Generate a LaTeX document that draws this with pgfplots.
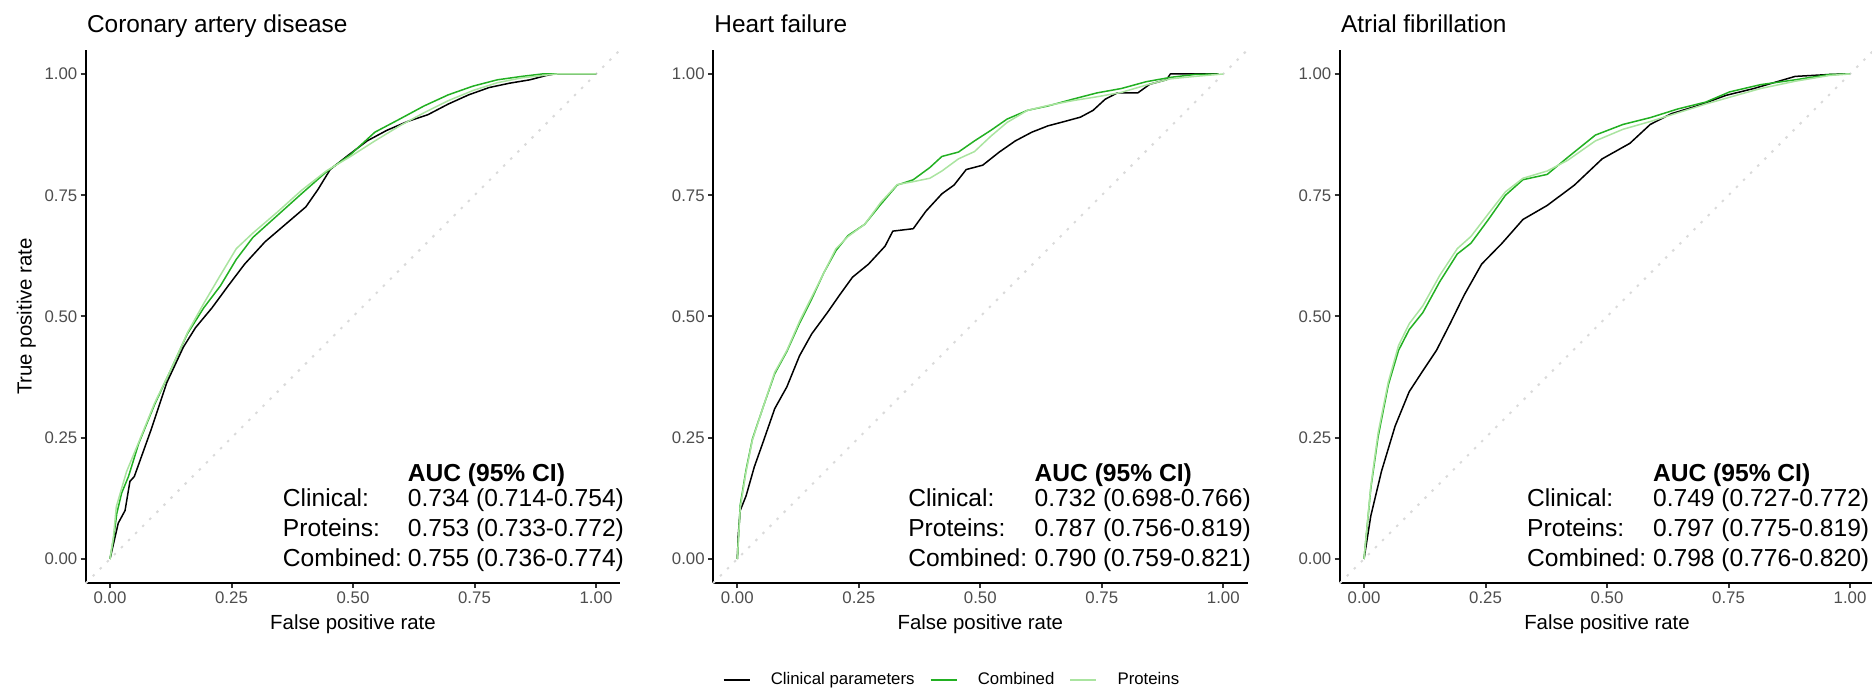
\documentclass[border=0pt]{standalone}
\usepackage{fontspec}
\setmainfont{Liberation Sans}
\usepackage{pgfplots}
\pgfplotsset{compat=1.18}

\definecolor{comb}{RGB}{34,176,34}
\definecolor{prot}{RGB}{170,228,160}
\definecolor{ticktext}{RGB}{77,77,77}
\definecolor{tickcol}{RGB}{51,51,51}
\definecolor{diag}{RGB}{218,218,218}

\newcommand{\aucfont}{\fontsize{12.3}{14}\selectfont}

% AUC block: #1 label x, #2 value x, #3 clinical, #4 proteins, #5 combined
\newcommand{\aucblock}[5]{%
  \node[anchor=base west, inner sep=0pt, font=\aucfont\bfseries] at (axis cs:#2,0.160) {AUC (95\% CI)};
  \node[anchor=base west, inner sep=0pt, font=\aucfont] at (axis cs:#1,0.1087) {Clinical:};
  \node[anchor=base west, inner sep=0pt, font=\aucfont] at (axis cs:#1,0.0464) {Proteins:};
  \node[anchor=base west, inner sep=0pt, font=\aucfont] at (axis cs:#1,-0.015) {Combined:};
  \node[anchor=base west, inner sep=0pt, font=\aucfont] at (axis cs:#2,0.1087) {#3};
  \node[anchor=base west, inner sep=0pt, font=\aucfont] at (axis cs:#2,0.0464) {#4};
  \node[anchor=base west, inner sep=0pt, font=\aucfont] at (axis cs:#2,-0.015) {#5};
}

\pgfplotsset{
  rocpanel/.style={
    scale only axis,
    width=267.3pt, height=266.75pt,
    anchor=south west,
    xmin=-0.05, xmax=1.05, ymin=-0.05, ymax=1.05,
    axis lines*=left,
    axis line style={black, line width=1pt, -},
    xtick={0,0.25,0.5,0.75,1},
    ytick={0,0.25,0.5,0.75,1},
    xticklabels={0.00,0.25,0.50,0.75,1.00},
    yticklabels={0.00,0.25,0.50,0.75,1.00},
    tick align=outside,
    major tick length=2.5pt,
    tick style={tickcol, line width=1pt},
    ticklabel style={font=\fontsize{8.4}{10}\selectfont, text=ticktext, inner sep=1.5pt},
    xlabel={False positive rate},
    xlabel style={font=\fontsize{10.2}{12}\selectfont, at={(axis description cs:0.5,-0.077)}, anchor=center},
    title style={font=\fontsize{12.2}{14}\selectfont, at={(axis description cs:0,1)}, anchor=base west, yshift=2.5pt, xshift=0.5pt, inner sep=0pt},
    clip=false,
    every axis plot/.append style={line width=0.75pt, line join=round, mark=none},
  },
  diagline/.style={diag, line width=1pt, dash pattern=on 1.2pt off 3.8pt, forget plot},
}

\begin{document}
\begin{tikzpicture}
\useasboundingbox (0,0) rectangle (936pt,344pt);

% ---------------- Coronary artery disease ----------------
\begin{axis}[rocpanel, at={(42.85pt,52.375pt)},
  title={Coronary artery disease},
  ylabel={True positive rate},
  ylabel style={font=\fontsize{10.2}{12}\selectfont, at={(axis description cs:-0.111,0.5)}, anchor=center}]
\addplot[diagline] coordinates {(-0.05,-0.05) (1.05,1.05)};
\addplot[black] coordinates {
(0,0) (0.017,0.074) (0.031,0.10) (0.041,0.16) (0.05,0.17) (0.084,0.265) (0.117,0.364)
(0.151,0.437) (0.176,0.477) (0.21,0.518) (0.243,0.563) (0.277,0.608) (0.319,0.654)
(0.361,0.69) (0.403,0.726) (0.428,0.762) (0.453,0.803) (0.487,0.83) (0.529,0.862)
(0.57,0.884) (0.612,0.902) (0.654,0.916) (0.696,0.938) (0.738,0.957) (0.78,0.972)
(0.822,0.981) (0.864,0.988) (0.898,0.997) (0.914,1) (1,1)};
\addplot[comb] coordinates {
(0,0) (0.007,0.04) (0.014,0.094) (0.024,0.136) (0.038,0.17) (0.059,0.238) (0.092,0.319)
(0.126,0.392) (0.159,0.464) (0.193,0.518) (0.227,0.563) (0.26,0.618) (0.294,0.663)
(0.344,0.708) (0.394,0.753) (0.445,0.798) (0.495,0.834) (0.545,0.88) (0.596,0.907)
(0.646,0.934) (0.696,0.957) (0.747,0.975) (0.797,0.988) (0.847,0.995) (0.889,1) (1,1)};
\addplot[prot] coordinates {
(0,0) (0.007,0.045) (0.013,0.108) (0.034,0.18) (0.06,0.243) (0.092,0.322) (0.126,0.392)
(0.16,0.468) (0.193,0.527) (0.227,0.585) (0.26,0.64) (0.294,0.672) (0.344,0.715)
(0.394,0.76) (0.445,0.8) (0.495,0.83) (0.545,0.862) (0.596,0.893) (0.646,0.92)
(0.696,0.945) (0.747,0.966) (0.797,0.982) (0.847,0.992) (0.9,0.998) (0.92,1) (1,1)};
\aucblock{0.355}{0.612}{0.734 (0.714-0.754)}{0.753 (0.733-0.772)}{0.755 (0.736-0.774)}
\end{axis}

% ---------------- Heart failure ----------------
\begin{axis}[rocpanel, at={(356.5pt,52.375pt)},
  title={Heart failure},
  legend columns=3,
  legend style={at={(axis description cs:0.445,-0.181)}, anchor=center,
    draw=none, fill=none, inner sep=0pt,
    font=\fontsize{8.4}{10}\selectfont,
    nodes={inner sep=0pt},
    /tikz/every even column/.append style={column sep=7.5pt},
    /tikz/every odd column/.append style={column sep=10pt}},
  legend image code/.code={\draw[#1, line width=1.1pt] (0pt,0pt) -- (13pt,0pt);}]
\addplot[diagline] coordinates {(-0.05,-0.05) (1.05,1.05)};
\addplot[black, forget plot] coordinates {
(0,0) (0.002,0.05) (0.006,0.10) (0.018,0.13) (0.035,0.19) (0.052,0.238) (0.077,0.31)
(0.102,0.355) (0.128,0.419) (0.153,0.464) (0.186,0.509) (0.211,0.545) (0.237,0.581)
(0.27,0.608) (0.304,0.645) (0.32,0.676) (0.362,0.681) (0.388,0.717) (0.421,0.753)
(0.446,0.771) (0.471,0.803) (0.505,0.812) (0.539,0.839) (0.572,0.862) (0.606,0.88)
(0.639,0.893) (0.673,0.902) (0.706,0.911) (0.732,0.925) (0.757,0.948) (0.782,0.961)
(0.824,0.961) (0.849,0.979) (0.883,0.988) (0.891,1) (0.99,1)};
\addplot[comb, forget plot] coordinates {
(0,0) (0.006,0.111) (0.018,0.184) (0.031,0.247) (0.052,0.31) (0.077,0.382) (0.102,0.428)
(0.128,0.486) (0.153,0.536) (0.178,0.59) (0.203,0.636) (0.228,0.667) (0.262,0.69)
(0.295,0.731) (0.329,0.771) (0.362,0.782) (0.396,0.807) (0.421,0.83) (0.455,0.839)
(0.488,0.862) (0.522,0.884) (0.555,0.907) (0.597,0.925) (0.639,0.934) (0.69,0.948)
(0.74,0.961) (0.79,0.97) (0.841,0.984) (0.891,0.993) (0.941,0.999) (0.99,1)};
\addplot[prot, forget plot] coordinates {
(0,0) (0.006,0.105) (0.018,0.18) (0.031,0.245) (0.052,0.31) (0.077,0.385) (0.102,0.43)
(0.128,0.49) (0.153,0.54) (0.178,0.59) (0.203,0.64) (0.228,0.665) (0.262,0.69)
(0.295,0.735) (0.329,0.772) (0.362,0.778) (0.396,0.785) (0.421,0.8) (0.455,0.825)
(0.488,0.84) (0.522,0.872) (0.555,0.9) (0.597,0.925) (0.639,0.935) (0.69,0.945)
(0.74,0.953) (0.79,0.962) (0.841,0.977) (0.891,0.99) (0.941,0.995) (1,1)};
\addlegendimage{black}
\addlegendentry{Clinical parameters}
\addlegendimage{comb}
\addlegendentry{Combined}
\addlegendimage{prot}
\addlegendentry{Proteins}
\aucblock{0.351}{0.611}{0.732 (0.698-0.766)}{0.787 (0.756-0.819)}{0.790 (0.759-0.821)}
\end{axis}

% ---------------- Atrial fibrillation ----------------
\begin{axis}[rocpanel, at={(669.85pt,52.375pt)},
  title={Atrial fibrillation}]
\addplot[diagline] coordinates {(-0.05,-0.05) (1.05,1.05)};
\addplot[black] coordinates {
(0,0) (0.014,0.089) (0.036,0.181) (0.064,0.274) (0.093,0.345) (0.121,0.388) (0.149,0.43)
(0.178,0.487) (0.206,0.544) (0.242,0.608) (0.284,0.651) (0.327,0.70) (0.377,0.729)
(0.433,0.771) (0.49,0.825) (0.547,0.857) (0.589,0.896) (0.632,0.918) (0.688,0.935)
(0.745,0.956) (0.802,0.97) (0.887,0.995) (0.958,0.999) (0.99,1)};
\addplot[comb] coordinates {
(0,0) (0.014,0.146) (0.029,0.252) (0.05,0.359) (0.071,0.43) (0.093,0.473) (0.121,0.508)
(0.156,0.572) (0.192,0.629) (0.22,0.651) (0.256,0.70) (0.291,0.75) (0.327,0.782)
(0.377,0.793) (0.419,0.828) (0.476,0.874) (0.533,0.896) (0.589,0.91) (0.646,0.928)
(0.703,0.942) (0.752,0.963) (0.816,0.978) (0.887,0.988) (0.958,0.999) (1,1)};
\addplot[prot] coordinates {
(0,0) (0.014,0.15) (0.029,0.26) (0.05,0.365) (0.071,0.44) (0.093,0.485) (0.121,0.522)
(0.156,0.585) (0.192,0.64) (0.22,0.665) (0.256,0.712) (0.291,0.757) (0.327,0.785)
(0.377,0.80) (0.419,0.822) (0.476,0.862) (0.533,0.886) (0.589,0.902) (0.646,0.92)
(0.703,0.938) (0.752,0.952) (0.816,0.97) (0.887,0.985) (0.958,0.997) (1,1)};
\aucblock{0.335}{0.594}{0.749 (0.727-0.772)}{0.797 (0.775-0.819)}{0.798 (0.776-0.820)}
\end{axis}
\end{tikzpicture}
\end{document}
